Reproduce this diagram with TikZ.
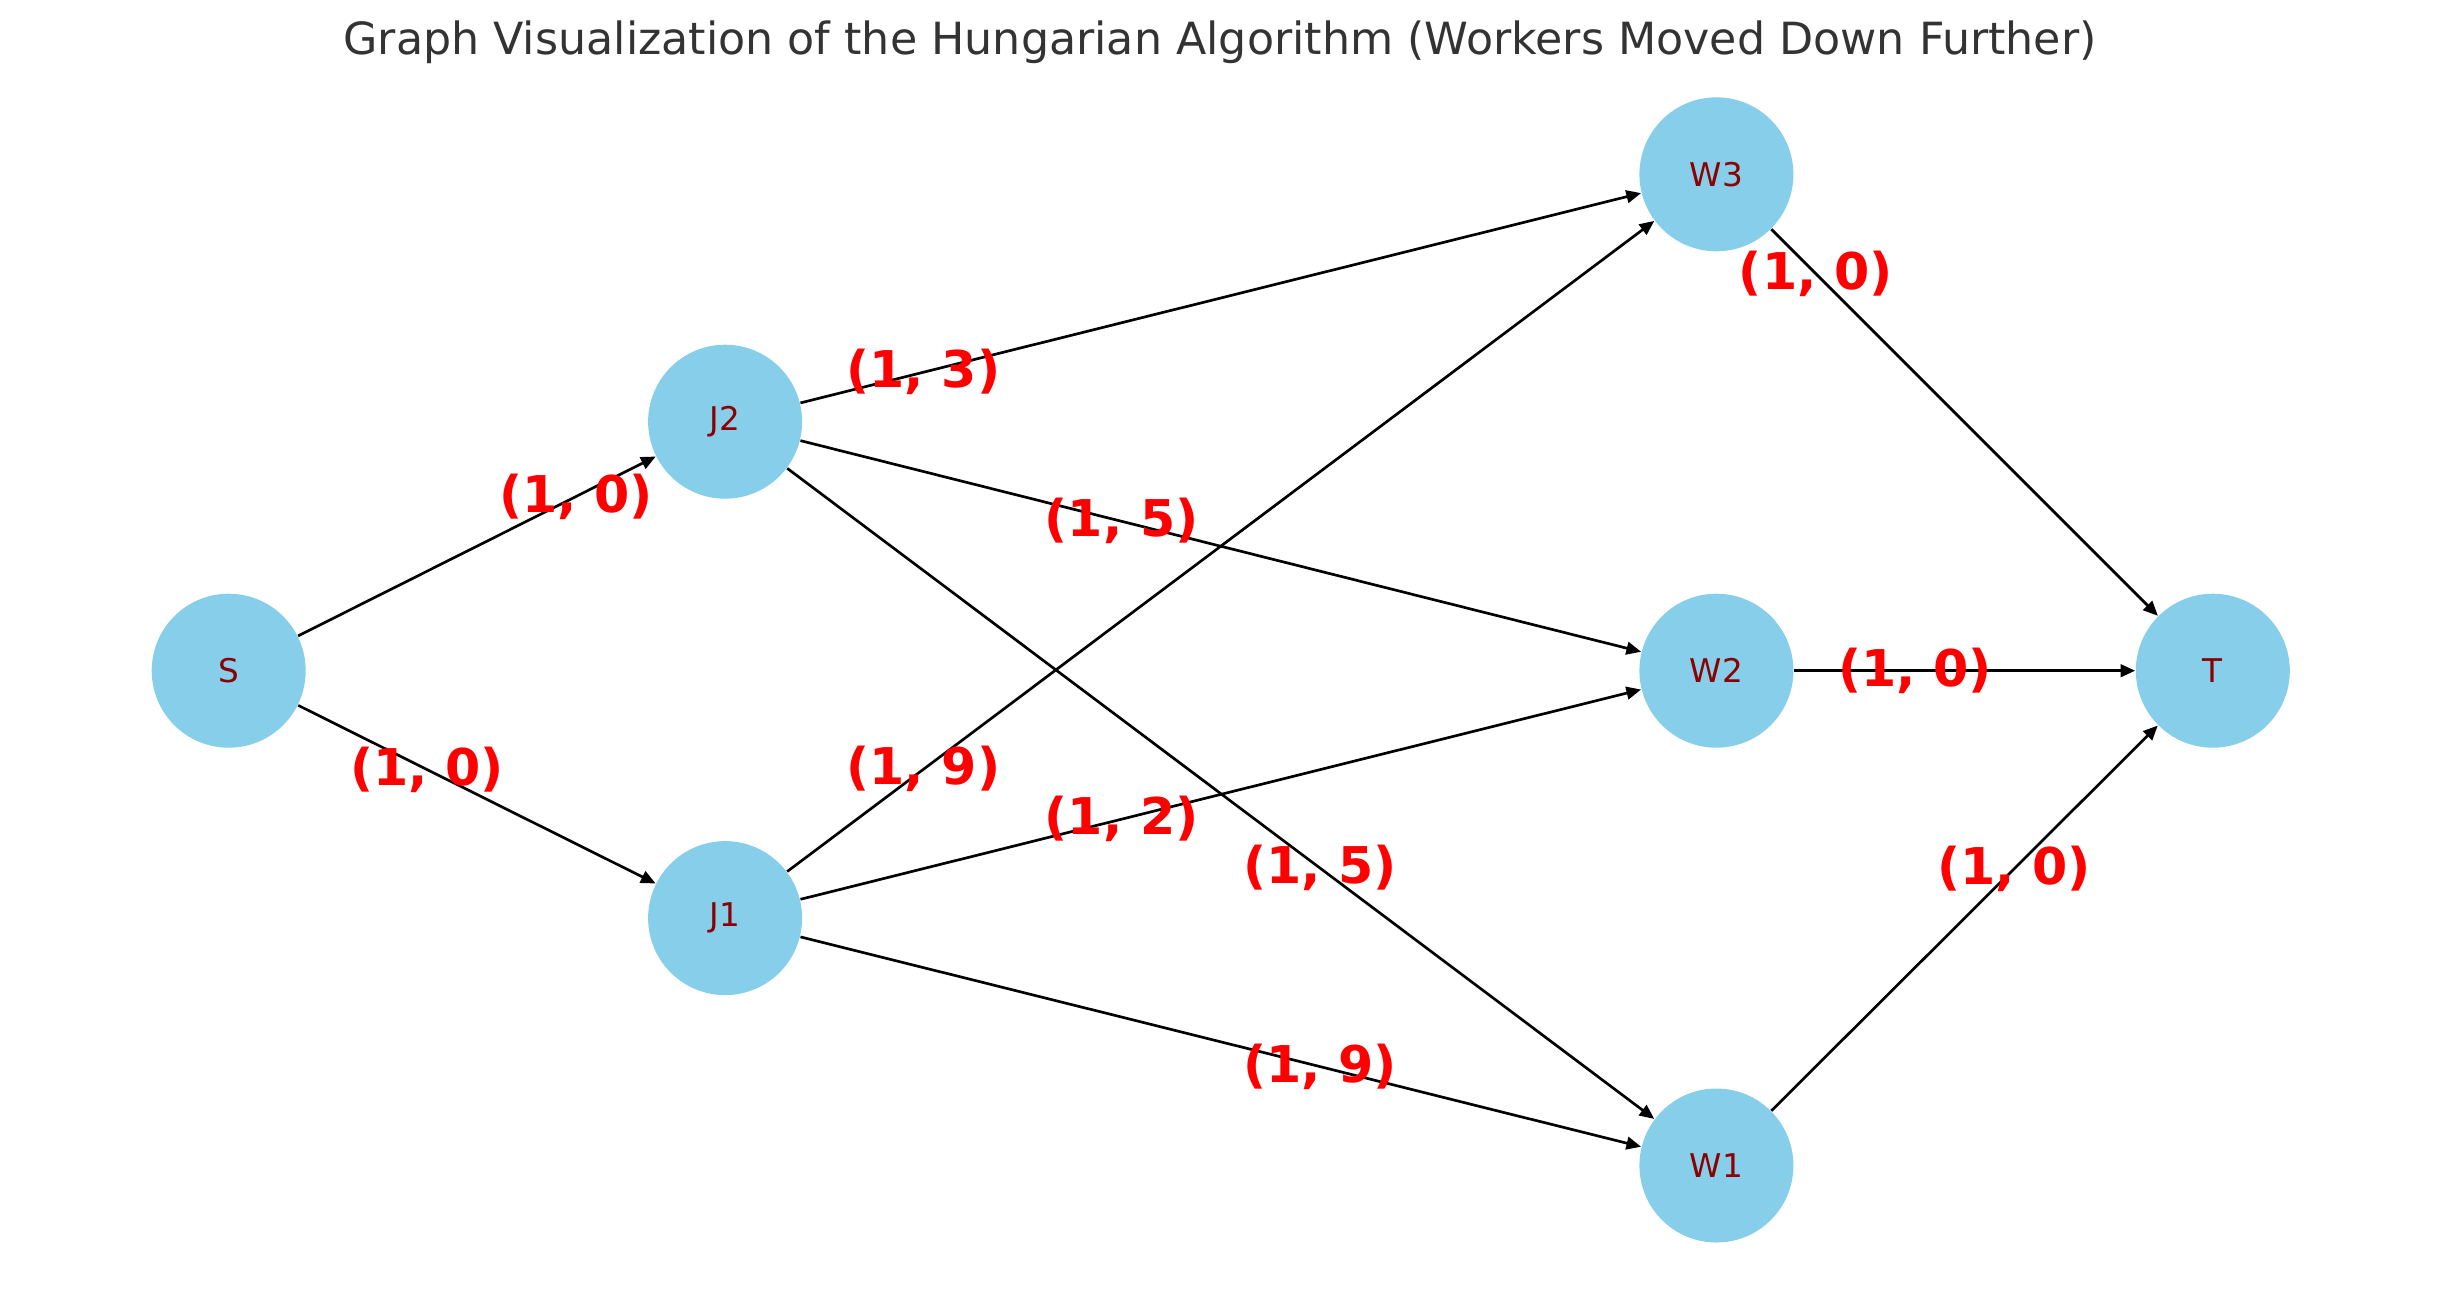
\documentclass[tikz,border=0pt]{standalone}
\usepackage{fontspec}
\setmainfont{DejaVu Sans}
\usetikzlibrary{calc,arrows.meta}
\definecolor{nodeblue}{HTML}{87CEEB}
\definecolor{nodetext}{HTML}{8B0000}
\definecolor{titlegray}{HTML}{333333}
\tikzset{
  vert/.style={circle, fill=nodeblue, draw=none, minimum size=46.2pt, inner sep=0pt,
    text=nodetext, font=\fontsize{9.8pt}{11.5pt}\selectfont},
  edge/.style={draw=black, line width=0.8pt, -{Triangle[length=4.4pt,width=3.8pt]}},
  lab/.style={text=red, inner sep=0pt, font=\fontsize{15.2pt}{18pt}\selectfont\bfseries},
}
\begin{document}
\begin{tikzpicture}[x=0.3pt,y=-0.3pt]
\useasboundingbox (0,0) rectangle (2440,1290);
\node[anchor=base, text=titlegray, font=\fontsize{13.3pt}{16pt}\selectfont] (title) at (1220,54) {Graph Visualization of the Hungarian Algorithm (Workers Moved Down Further)};
\node[vert] (S) at (228.7,670.7) {S};
\node[vert] (J2) at (725.1,421.7) {J2};
\node[vert] (J1) at (725.1,918.1) {J1};
\node[vert] (W3) at (1716.4,174.3) {W3};
\node[vert] (W2) at (1716.4,670.7) {W2};
\node[vert] (W1) at (1716.4,1165.5) {W1};
\node[vert] (T) at (2212.8,670.7) {T};
\draw[edge] (S) -- (J2);
\draw[edge] (S) -- (J1);
\draw[edge] (J2) -- (W3);
\draw[edge] (J2) -- (W2);
\draw[edge] (J2) -- (W1);
\draw[edge] (J1) -- (W3);
\draw[edge] (J1) -- (W2);
\draw[edge] (J1) -- (W1);
\draw[edge] (W3) -- (T);
\draw[edge] (W2) -- (T);
\draw[edge] (W1) -- (T);
\node[lab] (l1) at ($(S)!0.7!(J2)$) {(1, 0)};
\node[lab] (l2) at ($(S)!0.4!(J1)$) {(1, 0)};
\node[lab] (l3) at ($(J2)!0.2!(W3)$) {(1, 3)};
\node[lab] (l4) at ($(J2)!0.4!(W2)$) {(1, 5)};
\node[lab] (l5) at ($(J2)!0.6!(W1)$) {(1, 5)};
\node[lab] (l6) at ($(J1)!0.2!(W3)$) {(1, 9)};
\node[lab] (l7) at ($(J1)!0.4!(W2)$) {(1, 2)};
\node[lab] (l8) at ($(J1)!0.6!(W1)$) {(1, 9)};
\node[lab] (l9) at ($(W3)!0.2!(T)$) {(1, 0)};
\node[lab] (l10) at ($(W2)!0.4!(T)$) {(1, 0)};
\node[lab] (l11) at ($(W1)!0.6!(T)$) {(1, 0)};
\end{tikzpicture}
\end{document}
